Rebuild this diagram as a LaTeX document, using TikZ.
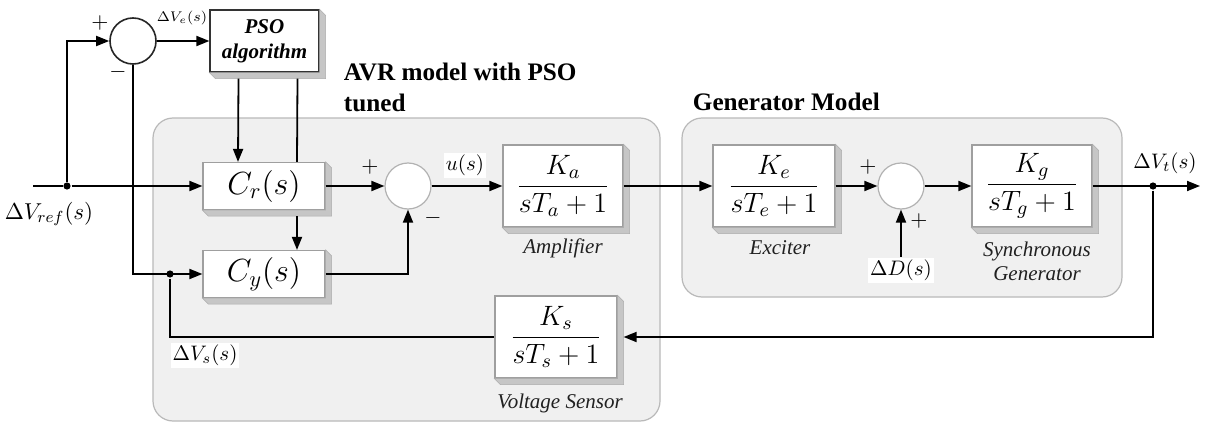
\RequirePackage{fix-cm}
\documentclass[tikz,border=0pt]{standalone}
\usepackage[no-math]{fontspec}
\setmainfont{Liberation Serif}
\usetikzlibrary{arrows.meta}

\begin{document}
\begin{tikzpicture}[x=0.5pt, y=-0.5pt, line width=0.9pt,
    arr/.style={-{Triangle[length=6.5pt,width=5pt]}},
    blk/.style={draw=gray!75, fill=white, line width=0.6pt, inner sep=0pt,
        minimum width=61pt, minimum height=23.5pt, font=\fontsize{16}{18}\selectfont},
    tf/.style={blk, minimum width=60pt, minimum height=41pt, font=\fontsize{14}{16}\selectfont},
    sumc/.style={circle, draw=gray!60, fill=white, line width=0.6pt, minimum size=23pt, inner sep=0pt},
    dot/.style={circle, fill, inner sep=0pt, minimum size=3.6pt},
    sgn/.style={inner sep=0pt, font=\fontsize{11}{12}\selectfont},
    lbl/.style={inner sep=0pt, font=\fontsize{10.5}{12}\selectfont},
    onwhite/.style={lbl, fill=white, inner sep=1pt},
    blkcap/.style={inner sep=0pt, align=center, text=gray!25!black,
        font=\fontsize{10.5}{12}\selectfont\itshape},
    title/.style={inner sep=0pt, anchor=west, align=left,
        font=\fontsize{12.6}{15.5}\selectfont\bfseries},
    region/.style={draw=gray!55, fill=gray!12, line width=0.6pt, rounded corners=10pt},
    bevel/.style={fill=gray!45, draw=gray!65, line width=0.3pt}
]
    \useasboundingbox (0,0) rectangle (1206,423);

    % shaded model regions
    \draw[region] (153,118) rectangle (660,421);
    \draw[region] (682,118) rectangle (1122,297);
    \node[title] (avrt) at (343,87) {AVR model with PSO\\tuned};
    \node[title] (gent) at (692,102) {Generator Model};

    % blocks
    \node[blk, draw=black!80, minimum width=54.5pt, minimum height=31pt, align=center,
        font=\fontsize{10.5}{12.5}\selectfont\bfseries\itshape] (pso) at (264.5,41) {PSO\\algorithm};
    \node[blk] (cr) at (264,186) {$C_r(s)$};
    \node[blk] (cy) at (264,274) {$C_y(s)$};
    \node[tf] (ka) at (563,186) {$\displaystyle\frac{K_a}{sT_a+1}$};
    \node[tf, minimum width=61pt] (ks) at (556,337) {$\displaystyle\frac{K_s}{sT_s+1}$};
    \node[tf, minimum width=61pt] (ke) at (774,186) {$\displaystyle\frac{K_e}{sT_e+1}$};
    \node[tf] (kg) at (1032,186) {$\displaystyle\frac{K_g}{sT_g+1}$};

    % 3d edge of the blocks
    \foreach \b in {pso,cr,cy,ka,ks,ke,kg}
        \filldraw[bevel] (\b.north east) -- ++(3pt,-3pt) -- ([shift={(3pt,-3pt)}]\b.south east)
            -- ([shift={(3pt,-3pt)}]\b.south west) -- (\b.south west) -- (\b.south east) -- cycle;

    % summing points
    \node[sumc, draw=black!85, line width=0.8pt] (s1) at (133,41) {};
    \node[sumc] (s2) at (408,186) {};
    \node[sumc] (s3) at (901,186) {};

    % branch points
    \node[dot] (rdot) at (67,186) {};
    \node[dot] (ydot) at (170,274) {};
    \node[dot] (tdot) at (1153,186) {};
    \coordinate (in) at (33,186);
    \coordinate (out) at (1200,186);

    % signal labels
    \node[lbl, font=\fontsize{11.5}{13}\selectfont] (vref) at (49,214) {$\Delta V_{ref}(s)$};
    \node[lbl, font=\fontsize{7}{8}\selectfont] (ve) at (182,18) {$\Delta V_e(s)$};
    \node[onwhite] (u) at (465,165) {$u(s)$};
    \node[onwhite] (vs) at (205,355) {$\Delta V_s(s)$};
    \node[lbl] (vt) at (1165,163) {$\Delta V_t(s)$};
    \node[onwhite] (dd) at (901,270) {$\Delta D(s)$};
    \node[sgn] (p1) at (100,23) {$+$};
    \node[sgn] (m1) at (118,72) {$-$};
    \node[sgn] (p2) at (370,167) {$+$};
    \node[sgn] (m2) at (433,218) {$-$};
    \node[sgn] (p3) at (868,167) {$+$};
    \node[sgn] (p4) at (919,221) {$+$};

    % block captions
    \node[blkcap] (amp) at (563,248) {Amplifier};
    \node[blkcap] (sen) at (560,403) {Voltage Sensor};
    \node[blkcap] (exc) at (780,248) {Exciter};
    \node[blkcap] (syn) at (1037,261) {Synchronous\\Generator};

    % connections
    \draw (in) -- (rdot);
    \draw[arr] (rdot) -- (cr);
    \draw[arr] (rdot) |- (s1);
    \draw[arr] (s1) -- (pso);
    \draw[arr] ([shift={(-13pt,-3pt)}]pso.south) -- ([xshift=-13pt]cr.north);
    \draw ([shift={(16.5pt,-3pt)}]pso.south) -- ([xshift=16.5pt]cr.north);
    \draw[arr] ([shift={(16.5pt,-3pt)}]cr.south) -- ([xshift=16.5pt]cy.north);
    \draw[arr] (s1.south) |- (cy.west);
    \draw (ydot) |- (ks.west);
    \draw[arr] (cr) -- (s2);
    \draw[arr] (cy.east) -| (s2.south);
    \draw[arr] (s2) -- (ka);
    \draw[arr] (ka) -- (ke);
    \draw[arr] (ke) -- (s3);
    \draw[arr] (dd.north) -- (s3.south);
    \draw[arr] (s3) -- (kg);
    \draw[arr] (kg) -- (out);
    \draw[arr] (tdot) |- ([xshift=3pt]ks.east);

\end{tikzpicture}
\end{document}
